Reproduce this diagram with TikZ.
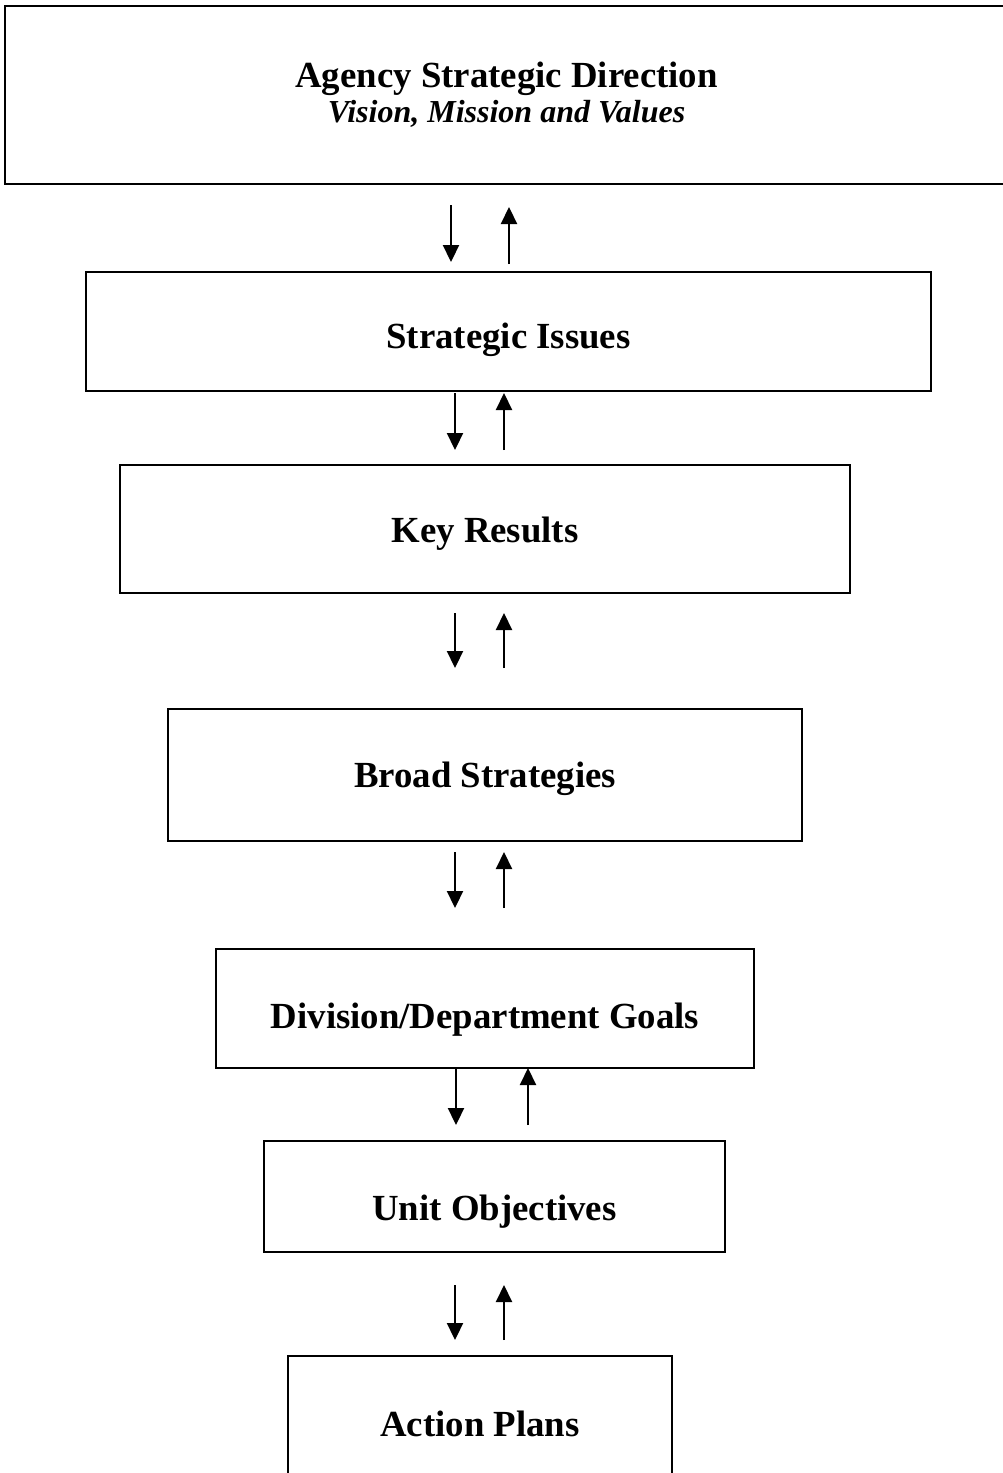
\documentclass[tikz,border=0pt]{standalone}
\usepackage{fontspec}
\setmainfont{Liberation Serif}
\usetikzlibrary{arrows.meta}
\begin{document}
\begin{tikzpicture}[x=1pt,y=-1pt,
  box/.style={draw=black,line width=2pt,inner sep=0pt,outer sep=0pt,anchor=north west},
  lbl/.style={inner sep=0pt,anchor=base,font=\fontsize{36.8}{40}\selectfont\bfseries},
  sublbl/.style={inner sep=0pt,anchor=base,font=\fontsize{32}{36}\selectfont\bfseries\itshape},
  flow/.style={line width=2.2pt,-{Triangle[length=17pt,width=16pt]}}]
\useasboundingbox (0,0) rectangle (1003,1473);
\clip (0,0) rectangle (1003,1473);
% boxes
\node[box,minimum width=1005pt,minimum height=178pt] (top) at (5,6) {};
\node[box,minimum width=845pt,minimum height=119pt] (si) at (86,272) {};
\node[box,minimum width=730pt,minimum height=128pt] (kr) at (120,465) {};
\node[box,minimum width=634pt,minimum height=132pt] (bs) at (168,709) {};
\node[box,minimum width=538pt,minimum height=119pt] (dg) at (216,949) {};
\node[box,minimum width=461pt,minimum height=111pt] (uo) at (264,1141) {};
\node[box,minimum width=384pt,minimum height=134pt] (ap) at (288,1356) {};
% labels
\node[lbl] (tA) at (506.5,87) {Agency Strategic Direction};
\node[sublbl] (tB) at (506.5,122.5) {Vision, Mission and Values};
\node[lbl] (tsi) at (508.5,348) {Strategic Issues};
\node[lbl] (tkr) at (485,542) {Key Results};
\node[lbl] (tbs) at (485,787.5) {Broad Strategies};
\node[lbl] (tdg) at (485,1028) {Division/Department Goals};
\node[lbl] (tuo) at (494.5,1220) {Unit Objectives};
\node[lbl] (tap) at (480,1436.5) {Action Plans};
% arrows
\draw[flow] ([xshift=-56.5pt,yshift=-21pt]top.south) -- ([xshift=-57.5pt,yshift=10pt]si.north);
\draw[flow] ([xshift=0.5pt,yshift=8pt]si.north) -- ([xshift=1.5pt,yshift=-23pt]top.south);
\draw[flow] ([xshift=-53.5pt,yshift=-2pt]si.south) -- ([xshift=-30pt,yshift=15pt]kr.north);
\draw[flow] ([xshift=19pt,yshift=15pt]kr.north) -- ([xshift=-4.5pt,yshift=-2pt]si.south);
\draw[flow] ([xshift=-30pt,yshift=-20pt]kr.south) -- ([xshift=-30pt,yshift=41pt]bs.north);
\draw[flow] ([xshift=19pt,yshift=41pt]bs.north) -- ([xshift=19pt,yshift=-20pt]kr.south);
\draw[flow] ([xshift=-30pt,yshift=-11pt]bs.south) -- ([xshift=-30pt,yshift=41pt]dg.north);
\draw[flow] ([xshift=19pt,yshift=41pt]dg.north) -- ([xshift=19pt,yshift=-11pt]bs.south);
\draw[flow] ([xshift=-29pt]dg.south) -- ([xshift=-38.5pt,yshift=16pt]uo.north);
\draw[flow] ([xshift=33.5pt,yshift=16pt]uo.north) -- ([xshift=43pt]dg.south);
\draw[flow] ([xshift=-39.5pt,yshift=-33pt]uo.south) -- ([xshift=-25pt,yshift=16pt]ap.north);
\draw[flow] ([xshift=24pt,yshift=16pt]ap.north) -- ([xshift=9.5pt,yshift=-33pt]uo.south);
\end{tikzpicture}
\end{document}
